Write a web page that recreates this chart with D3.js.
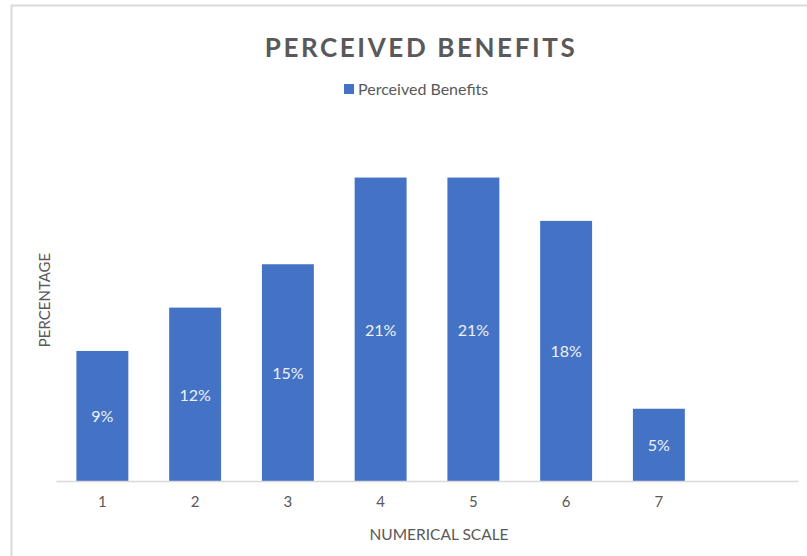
<!DOCTYPE html>
<html><head><meta charset="utf-8">
<script src="https://cdn.jsdelivr.net/npm/d3@7"></script>
<style>body{margin:0;background:#fff;} svg{display:block;font-family:Lato,"Open Sans",sans-serif;}</style>
</head><body><svg id="c" width="807" height="556"></svg>
<script>
const categories = ["1","2","3","4","5","6","7",""];
const values = [9,12,15,21,21,18,5,null];
const seriesName = "Perceived Benefits";
const title = "PERCEIVED BENEFITS";
const xTitle = "NUMERICAL SCALE";
const yTitle = "PERCENTAGE";

const svg = d3.select("#c");
const font = "Lato,'Open Sans',sans-serif";
// chart border
svg.append("path").attr("d","M11.5,556 L11.5,5.5 L807,5.5").attr("fill","none").attr("stroke","#d9d9d9").attr("stroke-width",2);

const left = 56, right = 798, base = 481;
const x = d3.scaleBand().domain(categories.map((c,i)=>i)).range([left,right]).paddingInner(0.44).paddingOuter(0.22);
const y = d3.scaleLinear().domain([0,25]).range([base, base-25*14.45]);

const data = values.map((v,i)=>({i, cat:categories[i], v})).filter(d=>d.v!=null);

svg.append("g").selectAll("rect").data(data).join("rect")
  .attr("x",d=>x(d.i)).attr("width",x.bandwidth())
  .attr("y",d=>y(d.v)).attr("height",d=>y(0)-y(d.v))
  .attr("fill","#4472c4");

// axis
const xAxis = d3.axisBottom(x).tickSize(0).tickPadding(15).tickFormat(i=>categories[i]);
const ax = svg.append("g").attr("transform",`translate(0,${base})`).call(xAxis);
ax.select(".domain").attr("stroke","#d9d9d9").attr("stroke-width",1.5);
ax.selectAll("text").attr("font-size",15).attr("fill","#595959").attr("font-family",font);

// value labels
svg.append("g").selectAll("text").data(data).join("text")
  .attr("x",d=>x(d.i)+x.bandwidth()/2).attr("y",d=>(y(d.v)+y(0))/2)
  .attr("text-anchor","middle").attr("dominant-baseline","central")
  .attr("font-size",16).attr("fill","#eef2fa").text(d=>d.v+"%");

// title
svg.append("text").attr("x",421).attr("y",57).attr("text-anchor","middle")
  .attr("font-size",26).attr("font-weight","bold").attr("letter-spacing","2.6px")
  .attr("fill","#595959").text(title);

// legend
svg.append("rect").attr("x",344).attr("y",84).attr("width",10).attr("height",10).attr("fill","#4472c4");
svg.append("text").attr("x",358).attr("y",95).attr("font-size",16).attr("fill","#595959").text(seriesName);

// axis titles
svg.append("text").attr("x",439).attr("y",540).attr("text-anchor","middle")
  .attr("font-size",15.5).attr("fill","#595959").text(xTitle);
svg.append("text").attr("transform","translate(50,300) rotate(-90)").attr("text-anchor","middle")
  .attr("font-size",15).attr("fill","#595959").text(yTitle);
</script></body></html>
